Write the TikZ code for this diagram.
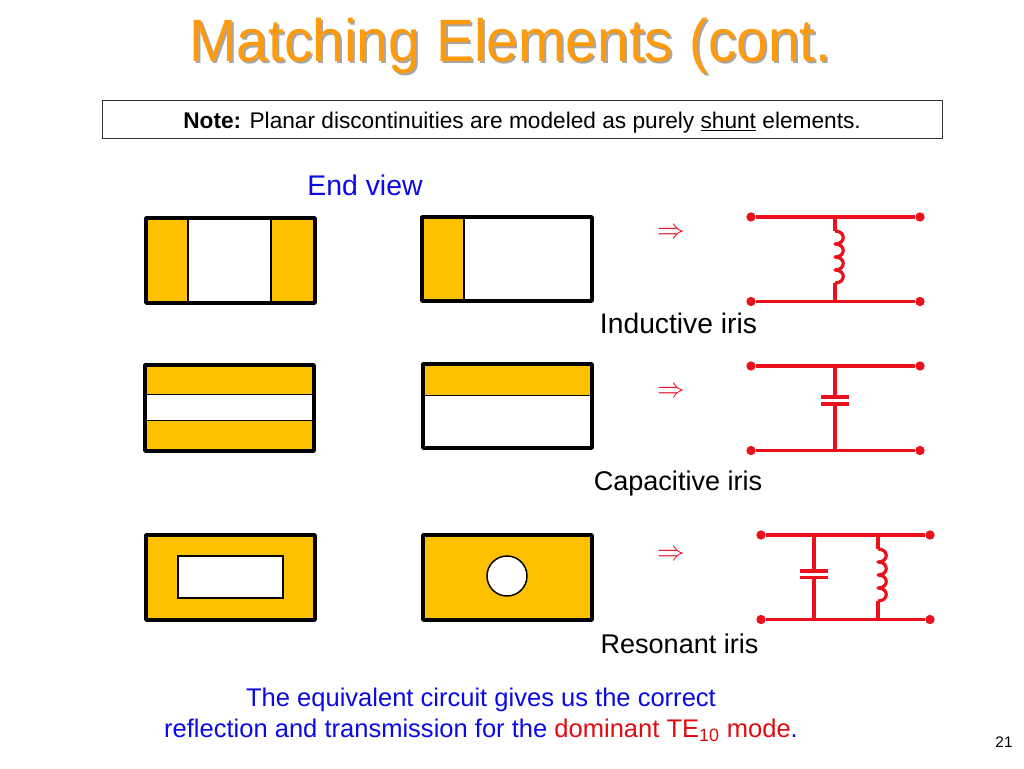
\documentclass[tikz,border=0pt]{standalone}
\usepackage{fontspec}
\setmainfont{Liberation Sans}
\definecolor{gold}{HTML}{FFC000}
\definecolor{ttl}{HTML}{FF9A0A}
\definecolor{wire}{HTML}{EA101C}
\definecolor{redt}{HTML}{E00A10}
\definecolor{bluet}{HTML}{0A0AE6}
\newcommand{\fsz}[1]{\fontsize{#1}{#1}\selectfont}
\newcommand{\titletext}{\scalebox{1}[1.05]{Matching Elements (cont.}}
\tikzset{
  frame/.style={draw=black,line width=2.7pt,line join=round},
  thin/.style={draw=black,line width=0.8pt},
  term/.style={circle,fill=wire,inner sep=0pt,minimum size=7pt},
  wr/.style={draw=wire,line width=2.4pt,line join=round},
  lab/.style={font=\fsz{20.3},text=black,inner sep=0pt},
  bl/.style={font=\fsz{19.15},text=bluet,inner sep=0pt},
  impl/.style={font=\fsz{22.5},text=wire,inner sep=0pt},
  coil/.pic={\draw[wr] (0,0) .. controls (11,0) and (11,13) .. (0,13)
     .. controls (11,13) and (11,26) .. (0,26)
     .. controls (11,26) and (11,39) .. (0,39)
     .. controls (11,39) and (11,52) .. (0,52);}
}
\begin{document}
\begin{tikzpicture}[x=0.75pt,y=-0.75pt]
\useasboundingbox (0,0) rectangle (1024,768);
\fill[white] (0,0) rectangle (1024,768);
% title
\node[font=\fsz{42.7},text=black!35,inner sep=0pt] (titleshadow) at (512.5,48.5) {\titletext};
\node[font=\fsz{42.7},text=ttl,inner sep=0pt] (title) at (510.5,46.5) {\titletext};
% note
\node[draw=black!80,line width=0.7pt,minimum width=630pt,minimum height=28.5pt,inner sep=0pt,font=\fsz{17}] (note) at (522,119.5)
  {\raisebox{-6.5pt}[0pt][0pt]{\textbf{Note:} Planar discontinuities are modeled as purely \underline{shunt} elements.}};
\node[bl,font=\fsz{21.3}] (endview) at (365,185) {End view};
% row 1
\fill[gold] (146,218) rectangle (188,303) (271,218) rectangle (315,303);
\draw[thin] (188,218) -- (188,303) (271,218) -- (271,303);
\draw[frame] (146,218) rectangle (315,303);
\fill[gold] (422,217) rectangle (464,301);
\draw[thin] (464,217) -- (464,301);
\draw[frame] (422,217) rectangle (592,301);
\draw[black,line width=1pt] (423,217) -- (423,301);
% row 2
\fill[gold] (145,365) rectangle (314,394) (145,420) rectangle (314,451);
\draw[thin] (145,394.5) -- (314,394.5) (145,420.5) -- (314,420.5);
\draw[frame] (145,365) rectangle (314,451);
\fill[gold] (423,364) rectangle (592,395);
\draw[thin] (423,395.5) -- (592,395.5);
\draw[frame] (423,364) rectangle (592,448);
% row 3
\draw[frame,fill=gold] (146,535) rectangle (315,620);
\draw[thin,fill=white] (178,556) rectangle (283,598);
\draw[frame,fill=gold] (423,535) rectangle (592,620);
\draw[thin,fill=white,line width=1.1pt] (507,576) circle[radius=20];
% implication
\node[impl] (imp1) at (671,233.5) {$\Rightarrow$};
\node[impl] (imp2) at (671,392.5) {$\Rightarrow$};
\node[impl] (imp3) at (671,555.5) {$\Rightarrow$};
% circuit 1
\node[term] (a1) at (751,217) {};
\node[term] (b1) at (920,217) {};
\node[term] (c1) at (751,301.5) {};
\node[term] (d1) at (920,301.5) {};
\draw[wr] (a1) -- (b1);
\draw[wr] (c1) -- (d1);
\coordinate (j1) at (835,217);
\coordinate (k1) at (835,301.5);
\coordinate (l1) at (835,231);
\coordinate (m1) at (835,283);
\draw[wr] (j1) -- (l1);
\pic at (l1) {coil};
\draw[wr] (m1) -- (k1);
% circuit 2
\node[term] (a2) at (751,366) {};
\node[term] (b2) at (920,366) {};
\node[term] (c2) at (751,450.5) {};
\node[term] (d2) at (920,450.5) {};
\draw[wr] (a2) -- (b2);
\draw[wr] (c2) -- (d2);
\coordinate (j2) at (835,366);
\coordinate (k2) at (835,450.5);
\coordinate (p2) at (835,397);
\coordinate (q2) at (835,404);
\draw[wr] (j2) -- (p2);
\draw[wr] (q2) -- (k2);
\draw[wr] (821,397) -- (849,397) (821,404) -- (849,404);
% circuit 3
\node[term] (a3) at (761,535) {};
\node[term] (b3) at (930,535) {};
\node[term] (c3) at (761,619.5) {};
\node[term] (d3) at (930,619.5) {};
\draw[wr] (a3) -- (b3);
\draw[wr] (c3) -- (d3);
\coordinate (j3) at (814,535);
\coordinate (k3) at (814,619.5);
\coordinate (p3) at (814,571);
\coordinate (q3) at (814,577.5);
\draw[wr] (j3) -- (p3);
\draw[wr] (q3) -- (k3);
\draw[wr] (800,571) -- (828,571) (800,577.5) -- (828,577.5);
\coordinate (r3) at (878,535);
\coordinate (s3) at (878,619.5);
\coordinate (t3) at (878,549);
\coordinate (u3) at (878,601);
\draw[wr] (r3) -- (t3);
\pic at (t3) {coil};
\draw[wr] (u3) -- (s3);
% labels
\node[lab,font=\fsz{21.2}] (l1t) at (678.5,323) {Inductive iris};
\node[lab] (l2t) at (678,483.5) {Capacitive iris};
\node[lab] (l3t) at (679.5,644) {Resonant iris};
% bottom
\node[bl] (b1t) at (481,699.5) {The equivalent circuit gives us the correct};
\node[bl] (b2t) at (481,730) {reflection and transmission for the \textcolor{redt}{dominant TE\textsubscript{10} mode}.};
\node[font=\fsz{11.5},inner sep=0pt] (page) at (1004,742) {21};
\end{tikzpicture}
\end{document}
